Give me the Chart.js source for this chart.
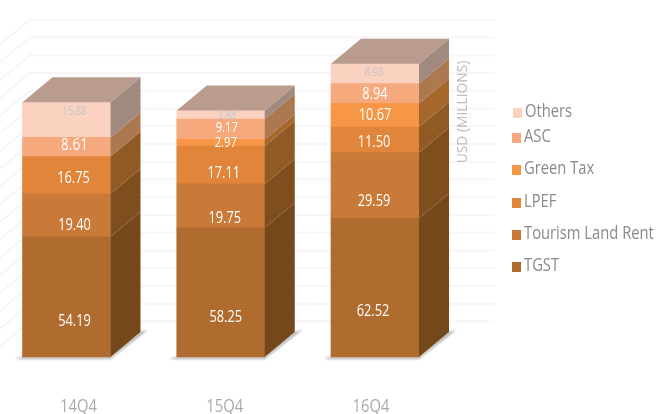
<!DOCTYPE html>
<html>
<head>
<meta charset="utf-8">
<title>Tourism revenue</title>
<script src="https://cdn.jsdelivr.net/npm/chart.js@4/dist/chart.umd.min.js"></script>
<style>
  html, body { margin: 0; padding: 0; background: #fff; overflow: hidden; }
  canvas { display: block; }
</style>
</head>
<body>
<canvas id="chart" width="672" height="414"></canvas>
<script>
const quarters = ['14Q4', '15Q4', '16Q4'];
const tgst = [54.19, 58.25, 62.52];
const landRent = [19.40, 19.75, 29.59];
const lpef = [16.75, 17.11, 11.50];
const greenTax = [null, 2.97, 10.67];
const asc = [8.61, 9.17, 8.94];
const others = [15.88, 3.88, 8.98];

const FONT = '"Open Sans", "Noto Sans", sans-serif';
const NARROW = 0.8; // the original face is much narrower than anything installed
const DEPTH_X = 30;
const DEPTH_Y = 25;
const TOP_COLOR = '#b99c8e';

// bottom to top, same order as the stack
const seriesList = [
  {label: 'TGST', data: tgst, color: '#b06c2e', side: '#74481a', legendY: 267},
  {label: 'Tourism Land Rent', data: landRent, color: '#c97a38', side: '#7e4e1f', legendY: 235},
  {label: 'LPEF', data: lpef, color: '#e08539', side: '#8f5a24', legendY: 203},
  {label: 'Green Tax', data: greenTax, color: '#f79646', side: '#a5682a', legendY: 170},
  {label: 'ASC', data: asc, color: '#f5a97c', side: '#ab7850', legendY: 138},
  {label: 'Others', data: others, color: '#fbd2c0', side: '#a0897f', legendY: 113}
];

// value labels sit off the segment centre in the original: [dx, dy, font size, colour]
const WHITE = '#ffffff';
const FADED = '#c4c4c8';
const labelStyle = [
  [[8, 25, 16, WHITE], [5, 25, 16, WHITE], [-2, 24, 16, WHITE]],
  [[8, 10, 16, WHITE], [4, 13, 16, WHITE], [-1, 16, 16, WHITE]],
  [[7, 3, 16, WHITE], [3, 8, 16, WHITE], [-1, 3, 16, WHITE]],
  [null, [5, 0, 14, WHITE], [0, 0, 16, WHITE]],
  [[8, -2, 17, WHITE], [6, -1, 14, WHITE], [0, 1, 16, WHITE]],
  [[8, -8, 12, FADED], [6, 1, 12, FADED], [-1, -1, 12, FADED]]
];
const tickNudge = [12, 4, -4];

function drawFace(ctx, points, color) {
  ctx.beginPath();
  points.forEach((p, i) => i ? ctx.lineTo(p[0], p[1]) : ctx.moveTo(p[0], p[1]));
  ctx.closePath();
  ctx.fillStyle = color;
  ctx.fill();
}

function drawText(ctx, text, x, y, squeeze) {
  ctx.save();
  ctx.translate(x, y);
  ctx.scale(squeeze, 1);
  ctx.fillText(text, 0, 0);
  ctx.restore();
}

const backdrop = {
  id: 'backdrop',
  beforeDatasetsDraw(chart) {
    const {ctx, scales: {y}} = chart;
    ctx.save();
    // wall lines and the faint diagonal floor lines
    ctx.strokeStyle = '#f6f6f6';
    ctx.lineWidth = 2;
    y.ticks.forEach(t => {
      const py = y.getPixelForValue(t.value);
      if (py < 8 || py > 330) return;
      ctx.beginPath();
      ctx.moveTo(-4, py + 28);
      ctx.lineTo(30, py);
      ctx.lineTo(495, py);
      ctx.stroke();
    });
    // ground shadow under each block
    ctx.filter = 'blur(1px)';
    chart.getDatasetMeta(0).data.forEach(bar => {
      const left = bar.x - bar.width / 2;
      const right = bar.x + bar.width / 2;
      const b = bar.base;
      drawFace(ctx, [[left - 8, b + 2], [right, b + 2], [right + DEPTH_X + 7, b - DEPTH_Y - 2],
        [right + DEPTH_X, b - DEPTH_Y], [right, b], [left, b]], '#a9a9a9');
    });
    ctx.restore();
  }
};

const blocks = {
  id: 'blocks',
  afterDatasetsDraw(chart) {
    const {ctx} = chart;
    ctx.save();
    chart.data.datasets.forEach((ds, d) => {
      chart.getDatasetMeta(d).data.forEach((bar, i) => {
        if (ds.data[i] == null) return;
        const right = bar.x + bar.width / 2;
        drawFace(ctx, [[right, bar.base], [right, bar.y], [right + DEPTH_X, bar.y - DEPTH_Y],
          [right + DEPTH_X, bar.base - DEPTH_Y]], seriesList[d].side);
      });
    });
    // lid of each stack, from the topmost segment
    const top = chart.getDatasetMeta(seriesList.length - 1).data;
    top.forEach(bar => {
      const left = bar.x - bar.width / 2;
      const right = bar.x + bar.width / 2;
      drawFace(ctx, [[left, bar.y], [right, bar.y], [right + DEPTH_X, bar.y - DEPTH_Y],
        [left + DEPTH_X, bar.y - DEPTH_Y]], TOP_COLOR);
    });

    // value labels
    ctx.textAlign = 'center';
    ctx.textBaseline = 'middle';
    chart.data.datasets.forEach((ds, d) => {
      chart.getDatasetMeta(d).data.forEach((bar, i) => {
        const st = labelStyle[d][i];
        if (ds.data[i] == null || !st) return;
        ctx.font = st[2] + 'px ' + FONT;
        ctx.fillStyle = st[3];
        drawText(ctx, ds.data[i].toFixed(2), bar.x + st[0], (bar.y + bar.base) / 2 + st[1], NARROW);
      });
    });

    // category labels
    ctx.font = '18px ' + FONT;
    ctx.fillStyle = '#aaaaaa';
    chart.getDatasetMeta(0).data.forEach((bar, i) => {
      drawText(ctx, quarters[i], bar.x + tickNudge[i], 407, 0.82);
    });

    // axis title
    ctx.save();
    ctx.translate(463, 112);
    ctx.rotate(-Math.PI / 2);
    ctx.font = '15px ' + FONT;
    ctx.fillStyle = '#bbbbbb';
    drawText(ctx, 'USD (MILLIONS)', 0, 0, 0.92);
    ctx.restore();

    // legend, uneven spacing like the original
    ctx.textAlign = 'left';
    seriesList.forEach(s => {
      const shift = s.label === 'Others' ? 1 : 0;
      ctx.fillStyle = s.color;
      ctx.fillRect(512 + shift, s.legendY - 5, 9, 10);
      ctx.font = '18px ' + FONT;
      ctx.fillStyle = '#8a8a8e';
      drawText(ctx, s.label, 524 + shift, s.legendY - 1, 0.82);
    });
    ctx.restore();
  }
};

new Chart(document.getElementById('chart'), {
  type: 'bar',
  data: {
    labels: quarters,
    datasets: seriesList.map(s => ({
      label: s.label,
      data: s.data,
      backgroundColor: s.color,
      barThickness: 88,
      clip: false
    }))
  },
  options: {
    responsive: false,
    animation: false,
    layout: {padding: {left: 66.5, right: 297, top: 2, bottom: 57}},
    plugins: {legend: {display: false}, tooltip: {enabled: false}},
    scales: {
      x: {stacked: true, offset: false, display: false},
      y: {stacked: true, min: 0, max: 160, display: false, ticks: {stepSize: 4}}
    }
  },
  plugins: [backdrop, blocks]
});
</script>
</body>
</html>
